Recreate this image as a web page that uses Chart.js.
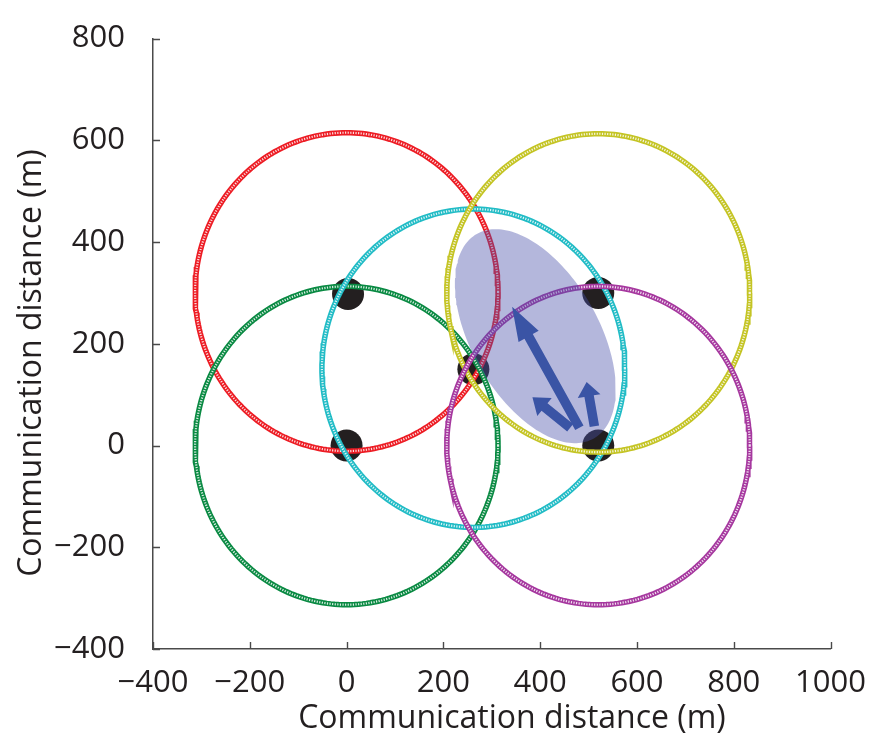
<!DOCTYPE html>
<html>
<head>
<meta charset="utf-8">
<script src="https://cdn.jsdelivr.net/npm/chart.js@4.4.1/dist/chart.umd.min.js"></script>
<style>
  html, body { margin: 0; padding: 0; background: #ffffff; }
  #wrap { width: 874px; height: 736px; position: relative; }
</style>
</head>
<body>
<div id="wrap"><canvas id="chart"></canvas></div>
<script>
// Axis ticks (m)
const xTickValues = [-400, -200, 0, 200, 400, 600, 800, 1000];
const yTickValues = [-400, -200, 0, 200, 400, 600, 800];

// Anchor nodes (m)
const nodeX = [3, 0, 262, 520, 520];
const nodeY = [298, 0, 150, 300, 0];

// Communication range of each node: centre and radius (m)
const rangeColors  = ['#ed1c24', '#0a8a43', '#22bcc6', '#c4c424', '#a6389f'];
const rangeCenterX = [0, 0, 262, 520, 520];
const rangeCenterY = [302, 0, 152, 300, 0];
const rangeRadius  = [313, 313, 313, 313, 313];

// Uncertainty ellipse: centre and two conjugate semi-axis vectors (m)
const ellipseCenter = [390, 215];
const ellipseAxisU  = [121, -201];
const ellipseAxisV  = [-114, -62];

// Motion vectors: start and end points (m)
const arrowFromX = [481, 512, 462];
const arrowFromY = [35, 38, 35];
const arrowToX   = [342, 496, 384];
const arrowToY   = [273, 125, 95];

const FONT = '"Open Sans", "DejaVu Sans", sans-serif';
const AXIS_COLOR = '#4a4a4a';
const TITLE = 'Communication distance (m)';

function circlePoints(cx, cy, r, n) {
  const pts = [];
  for (let k = 0; k <= n; k++) {
    const a = (2 * Math.PI * k) / n;
    pts.push({ x: cx + r * Math.cos(a), y: cy + r * Math.sin(a) });
  }
  return pts;
}

function ellipsePoints(c, u, v, n) {
  const pts = [];
  for (let k = 0; k <= n; k++) {
    const t = (2 * Math.PI * k) / n;
    pts.push({
      x: c[0] + u[0] * Math.cos(t) + v[0] * Math.sin(t),
      y: c[1] + u[1] * Math.cos(t) + v[1] * Math.sin(t)
    });
  }
  return pts;
}

const datasets = [];

// nodes underneath everything
datasets.push({
  label: 'nodes',
  data: nodeX.map((x, i) => ({ x, y: nodeY[i] })),
  pointRadius: 16,
  pointBackgroundColor: '#231f20',
  pointBorderWidth: 0,
  showLine: false,
  order: 100
});

// range rings: a coloured band with a white dashed core, giving a chain of hollow markers
rangeColors.forEach((col, i) => {
  const pts = circlePoints(rangeCenterX[i], rangeCenterY[i], rangeRadius[i], 240);
  datasets.push({
    label: 'range-' + i,
    data: pts,
    showLine: true,
    borderColor: col,
    borderWidth: 5.5,
    pointRadius: 0,
    tension: 0,
    order: 60 - 2 * i
  });
  datasets.push({
    label: 'range-core-' + i,
    data: pts,
    showLine: true,
    borderColor: 'rgba(255,255,255,0.85)',
    borderWidth: 2.2,
    borderDash: [1.2, 1.4],
    pointRadius: 0,
    tension: 0,
    order: 59 - 2 * i
  });
});

// translucent uncertainty ellipse
datasets.push({
  label: 'ellipse',
  data: ellipsePoints(ellipseCenter, ellipseAxisU, ellipseAxisV, 180),
  showLine: true,
  borderColor: 'rgba(0,0,0,0)',
  borderWidth: 0,
  backgroundColor: 'rgba(72,80,170,0.41)',
  fill: 'shape',
  pointRadius: 0,
  tension: 0,
  order: 1
});

// inward tick marks on both axes
const inwardTicks = {
  id: 'inwardTicks',
  afterDraw(chart) {
    const { ctx, chartArea, scales } = chart;
    const len = 7;
    ctx.save();
    ctx.strokeStyle = AXIS_COLOR;
    ctx.lineWidth = 1.4;
    ctx.beginPath();
    xTickValues.forEach(v => {
      const px = Math.round(scales.x.getPixelForValue(v)) + 0.5;
      ctx.moveTo(px, chartArea.bottom);
      ctx.lineTo(px, chartArea.bottom - len);
    });
    yTickValues.forEach(v => {
      const py = Math.round(scales.y.getPixelForValue(v)) + 0.5;
      ctx.moveTo(chartArea.left, py);
      ctx.lineTo(chartArea.left + len, py);
    });
    ctx.stroke();
    ctx.restore();
  }
};

// motion arrows on top of the ellipse
const motionArrows = {
  id: 'motionArrows',
  afterDatasetsDraw(chart) {
    const { ctx, scales } = chart;
    const shaftW = 9.5, headW = 23;
    ctx.save();
    ctx.fillStyle = '#3a54a5';
    arrowFromX.forEach((_, i) => {
      const x0 = scales.x.getPixelForValue(arrowFromX[i]);
      const y0 = scales.y.getPixelForValue(arrowFromY[i]);
      const x1 = scales.x.getPixelForValue(arrowToX[i]);
      const y1 = scales.y.getPixelForValue(arrowToY[i]);
      const dx = x1 - x0, dy = y1 - y0;
      const len = Math.hypot(dx, dy);
      const ux = dx / len, uy = dy / len;
      const nx = -uy, ny = ux;
      const headL = Math.min(34, 0.32 * len);
      const bx = x1 - ux * headL, by = y1 - uy * headL;
      ctx.beginPath();
      ctx.moveTo(x0 + nx * shaftW / 2, y0 + ny * shaftW / 2);
      ctx.lineTo(bx + nx * shaftW / 2, by + ny * shaftW / 2);
      ctx.lineTo(bx + nx * headW / 2, by + ny * headW / 2);
      ctx.lineTo(x1, y1);
      ctx.lineTo(bx - nx * headW / 2, by - ny * headW / 2);
      ctx.lineTo(bx - nx * shaftW / 2, by - ny * shaftW / 2);
      ctx.lineTo(x0 - nx * shaftW / 2, y0 - ny * shaftW / 2);
      ctx.closePath();
      ctx.fill();
    });
    ctx.restore();
  }
};

// axis titles
const axisTitles = {
  id: 'axisTitles',
  afterDraw(chart) {
    const { ctx } = chart;
    ctx.save();
    ctx.fillStyle = '#231f20';
    ctx.font = '32px ' + FONT;
    ctx.textAlign = 'center';
    ctx.textBaseline = 'alphabetic';
    ctx.fillText(TITLE, 512, 728);
    ctx.translate(41, 363);
    ctx.rotate(-Math.PI / 2);
    ctx.fillText(TITLE, 0, 0);
    ctx.restore();
  }
};

const fmt = v => (v < 0 ? '\u2212' + Math.abs(v) : String(v));

new Chart(document.getElementById('chart'), {
  type: 'scatter',
  data: { datasets },
  plugins: [inwardTicks, motionArrows, axisTitles],
  options: {
    responsive: true,
    maintainAspectRatio: false,
    devicePixelRatio: 1,
    animation: false,
    events: [],
    layout: { padding: { top: 34, right: 42, left: 0, bottom: 0 } },
    plugins: { legend: { display: false }, tooltip: { enabled: false } },
    scales: {
      x: {
        type: 'linear',
        min: -400,
        max: 1000,
        afterBuildTicks: s => { s.ticks = xTickValues.map(v => ({ value: v })); },
        afterFit: s => { s.height = 87; },
        grid: { display: false },
        border: { display: true, color: AXIS_COLOR, width: 1.5 },
        ticks: {
          padding: 8,
          color: '#231f20',
          font: { family: FONT, size: 31 },
          maxRotation: 0,
          callback: fmt
        }
      },
      y: {
        type: 'linear',
        min: -400,
        max: 800,
        afterBuildTicks: s => { s.ticks = yTickValues.map(v => ({ value: v })); },
        afterFit: s => { s.width = 153; },
        grid: { display: false },
        border: { display: true, color: AXIS_COLOR, width: 1.5 },
        ticks: {
          padding: 20,
          color: '#231f20',
          font: { family: FONT, size: 31 },
          callback: fmt
        }
      }
    }
  }
});
</script>
</body>
</html>
